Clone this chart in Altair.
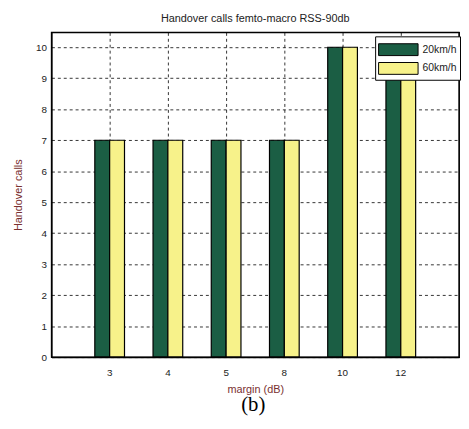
import altair as alt
import pandas as pd

margins = ["3", "4", "5", "8", "10", "12"]
speed_20 = [7, 7, 7, 7, 10, 10]
speed_60 = [7, 7, 7, 7, 10, 10]
series = ["20km/h", "60km/h"]
colors = ["#1b5e44", "#f7f28a"]

rows = []
for m, a, b in zip(margins, speed_20, speed_60):
    rows.append({"margin": m, "speed": series[0], "calls": a})
    rows.append({"margin": m, "speed": series[1], "calls": b})
df = pd.DataFrame(rows)

W, H = 413, 329
axis_color = "#7a3030"

base = alt.Chart(df)

bars = base.mark_bar(stroke="black", strokeWidth=1.2).encode(
    x=alt.X("margin:N", sort=margins,
            scale=alt.Scale(paddingInner=0.49, paddingOuter=0.745),
            axis=alt.Axis(title="margin (dB)", labelAngle=0, grid=True,
                          gridDash=[3, 3], gridColor="black", gridOpacity=0.8,
                          domain=True, domainColor="black", domainWidth=1.2,
                          tickColor="black", tickSize=0,
                          labelFont="Liberation Sans", labelFontSize=10,
                          labelColor="#222", titleFont="Liberation Sans",
                          titleFontSize=11, titleFontWeight="normal",
                          titleColor=axis_color, titlePadding=6, labelPadding=11)),
    xOffset=alt.XOffset("speed:N", sort=series, scale=alt.Scale(paddingInner=0, paddingOuter=0)),
    y=alt.Y("calls:Q", scale=alt.Scale(domain=[0, 10.48], nice=False),
            axis=alt.Axis(title="Handover calls", values=list(range(0, 11)),
                          grid=True, gridDash=[3, 3], gridColor="black",
                          gridOpacity=0.8, domain=True, domainColor="black",
                          domainWidth=1.2, tickColor="black",
                          tickSize=0, labelFont="Liberation Sans",
                          labelFontSize=10, labelColor="#222",
                          titleFont="Liberation Sans", titleFontSize=11,
                          titleFontWeight="normal", titleColor=axis_color,
                          titlePadding=12, labelPadding=5)),
    color=alt.Color("speed:N", sort=series,
                    scale=alt.Scale(domain=series, range=colors),
                    legend=alt.Legend(title=None, orient="none",
                                      legendX=328, legendY=4,
                                      symbolType="M-1,-0.6H3V0.6H-1Z",
                                      symbolSize=400,
                                      symbolStrokeColor="black",
                                      symbolStrokeWidth=1,
                                      labelFont="Liberation Sans",
                                      labelFontSize=10.5, labelColor="#222",
                                      strokeColor="black", fillColor="white",
                                      padding=3, rowPadding=0, labelOffset=24,
                                      labelLimit=80)),
)

frame = alt.Chart(pd.DataFrame({"f": [0]})).mark_rect(
    fill="white", fillOpacity=0, stroke="black", strokeWidth=1.2, strokeOpacity=1
).encode(x=alt.value(0), x2=alt.value(W), y=alt.value(0), y2=alt.value(H))

sub = alt.Chart(pd.DataFrame({"t": ["(b)"]})).mark_text(
    font="Liberation Serif", fontSize=21, color="black", baseline="middle"
).encode(text="t:N", x=alt.value(W / 2 - 2), y=alt.value(H + 49))

chart = alt.layer(bars, frame, sub).properties(
    width=W, height=H,
    background="white",
    title=alt.Title("Handover calls femto-macro RSS-90db", font="Liberation Sans",
                    fontSize=11, fontWeight="normal", color="#222", offset=8),
    autosize=alt.AutoSizeParams(type="none"),
    padding={"left": 44, "top": 22, "right": 2, "bottom": 60},
).configure_view(stroke="black", strokeWidth=1.2)

chart.save("out.html", embed_options={"renderer": "svg", "actions": False})
